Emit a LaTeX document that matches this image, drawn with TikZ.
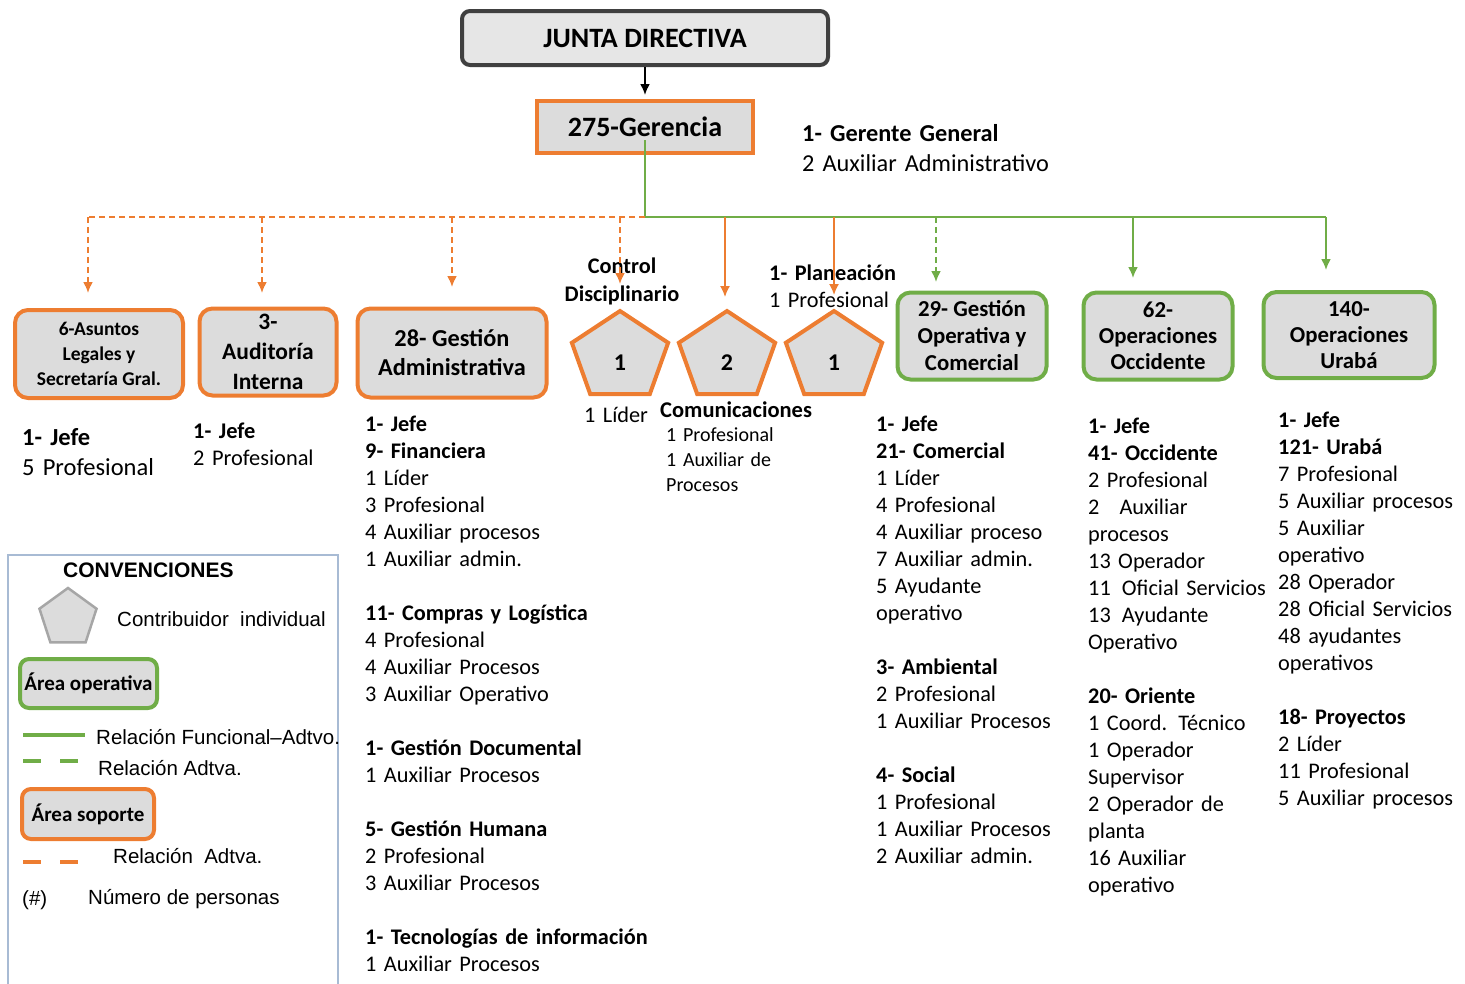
\documentclass[tikz,border=0pt]{standalone}
\usepackage{fontspec}
\setmainfont{Carlito}
\newfontfamily\arialfont{Liberation Sans}
\usetikzlibrary{shapes.geometric,arrows.meta}
\definecolor{orng}{HTML}{ED7D31}
\definecolor{verde}{HTML}{70AD47}
\definecolor{gris}{HTML}{DCDCDC}
\definecolor{marco}{HTML}{A8BBD4}
\begin{document}
\begin{tikzpicture}[x=1pt, y=-1pt,
		soporte/.style={draw=orng, line width=4pt, fill=gris, rounded corners=13pt, align=center, font=\bfseries},
		operativa/.style={draw=verde, line width=4pt, fill=gris, rounded corners=13pt, align=center, font=\bfseries},
		indiv/.style={draw=orng, line width=4pt, fill=gris, regular polygon, regular polygon sides=5, minimum size=92pt, inner sep=0pt, xscale=1.1, transform shape},
		num/.style={font=\fontsize{24}{28}\selectfont\bfseries},
		lista/.style={anchor=base west, align=left, text width=200pt, inner sep=0pt, font=\fontsize{22.3}{27}\selectfont},
		leyenda/.style={anchor=base west, inner sep=0pt, font=\arialfont\fontsize{20.5}{24}\selectfont},
		odash/.style={draw=orng, line width=2pt, dash pattern=on 6pt off 4pt},
		flecha/.style={-{Latex[length=11pt,width=10pt]}}]
	\useasboundingbox (0,0) rectangle (1465,983);

	% cabeza
	\node[draw=black!75, line width=4pt, fill=gris!70, rounded corners=8pt, minimum width=366pt, minimum height=54pt,
		font=\fontsize{28}{30}\selectfont\bfseries] (jd) at (645,38) {JUNTA DIRECTIVA};
	\node[draw=orng, line width=4pt, fill=gris, minimum width=216pt, minimum height=52pt,
		font=\fontsize{28}{30}\selectfont\bfseries] (ger) at (645,127) {275-Gerencia};
	\node[lista, text width=300pt, font=\fontsize{24.3}{30}\selectfont] (gert) at (802,141) {\textbf{1- Gerente General}\\2 Auxiliar Administrativo};
	\draw[flecha, line width=2pt, shorten >=4pt] (jd) -- (ger);

	% areas soporte
	\node[soporte, minimum width=168pt, minimum height=88pt, font=\fontsize{19.5}{25}\selectfont\bfseries] (leg) at (99,354) {6-Asuntos\\Legales y\\Secretaría Gral.};
	\node[soporte, minimum width=137pt, minimum height=87pt, font=\fontsize{23.5}{30}\selectfont\bfseries] (aud) at (268,352) {3-\\Auditoría\\Interna};
	\node[soporte, minimum width=189pt, minimum height=89pt, font=\fontsize{24.3}{29}\selectfont\bfseries] (adm) at (452,353) {28- Gestión\\Administrativa};

	% contribuidores
	\node[indiv] (p1) at (620,357) {};
	\node[indiv] (p2) at (727,357) {};
	\node[indiv] (p3) at (834,357) {};
	\node[num] (c1) at (620,363) {1};
	\node[num] (c2) at (727,363) {2};
	\node[num] (c3) at (834,363) {1};
	\node[font=\fontsize{22.3}{28}\selectfont\bfseries, align=center] (ctl) at (622,281) {Control\\Disciplinario};
	\node[lista, text width=80pt] (c1t) at (584,422) {1 Líder};
	\node[lista, font=\fontsize{22.5}{27}\selectfont\bfseries] (c2t) at (660,417) {Comunicaciones};
	\node[lista, font=\fontsize{20}{25}\selectfont] (c2l) at (666,441) {1 Profesional\\1 Auxiliar de\\Procesos};
	\node[lista] (c3t) at (769,280) {\textbf{1- Planeación}\\1 Profesional};

	% areas operativas
	\node[operativa, minimum width=149pt, minimum height=87pt, font=\fontsize{22.8}{27}\selectfont\bfseries] (gop) at (972,336) {29- Gestión\\Operativa y\\Comercial};
	\node[operativa, minimum width=149pt, minimum height=87pt, font=\fontsize{22.8}{26}\selectfont\bfseries] (occ) at (1158,336) {62-\\Operaciones\\Occidente};
	\node[operativa, minimum width=171pt, minimum height=86pt, font=\fontsize{22.8}{26}\selectfont\bfseries] (ura) at (1349,335) {140-\\Operaciones\\Urabá};

	% conectores
	\coordinate (hub) at (645,217);
	\coordinate (aLeg) at (88,293);
	\coordinate (aAud) at (262,293);
	\coordinate (aAdm) at (452,287);
	\coordinate (aC1) at (620,284);
	\coordinate (aC2) at (725,297);
	\coordinate (aC3) at (834,295);
	\coordinate (aGop) at (936,282);
	\coordinate (aOcc) at (1133,278);
	\coordinate (aUra) at (1326,270);
	\draw[verde, line width=2.5pt] ([yshift=-13pt]ger.center) -- (hub) -- (hub -| aUra);
	\draw[odash] (hub) -- (hub -| aLeg);
	\foreach \t in {aLeg,aAud,aAdm,aC1}
		\draw[odash, flecha, orng] (hub -| \t) -- (\t);
	\foreach \t in {aC2,aC3}
		\draw[flecha, orng, line width=1.6pt] (hub -| \t) -- (\t);
	\draw[flecha, verde, line width=2pt, dash pattern=on 6pt off 4pt] (hub -| aGop) -- (aGop);
	\foreach \t in {aOcc,aUra}
		\draw[flecha, verde, line width=2pt] (hub -| \t) -- (\t);

	% detalle
	\node[lista, font=\fontsize{24.5}{30}\selectfont] (legt) at (22,445) {\textbf{1- Jefe}\\5 Profesional};
	\node[lista, font=\fontsize{22.4}{27}\selectfont, text width=160pt] (audt) at (193,438) {\textbf{1- Jefe}\\2 Profesional};
	\node[lista, text width=320pt] (admt) at (365,431) {\textbf{1- Jefe}\\\textbf{9- Financiera}\\1 Líder\\3 Profesional\\4 Auxiliar procesos\\1 Auxiliar admin.\\[27pt]
		\textbf{11- Compras y Logística}\\4 Profesional\\4 Auxiliar Procesos\\3 Auxiliar Operativo\\[27pt]
		\textbf{1- Gestión Documental}\\1 Auxiliar Procesos\\[27pt]
		\textbf{5- Gestión Humana}\\2 Profesional\\3 Auxiliar Procesos\\[27pt]
		\textbf{1- Tecnologías de información}\\1 Auxiliar Procesos};
	\node[lista] (gopt) at (876,431) {\textbf{1- Jefe}\\\textbf{21- Comercial}\\1 Líder\\4 Profesional\\4 Auxiliar proceso\\7 Auxiliar admin.\\5 Ayudante\\operativo\\[27pt]
		\textbf{3- Ambiental}\\2 Profesional\\1 Auxiliar Procesos\\[27pt]
		\textbf{4- Social}\\1 Profesional\\1 Auxiliar Procesos\\2 Auxiliar admin.};
	\node[lista] (occt) at (1088,433) {\textbf{1- Jefe}\\\textbf{41- Occidente}\\2 Profesional\\2\hspace{0.9em}Auxiliar\\procesos\\13 Operador\\11\hspace{0.5em}Oficial Servicios\\13\hspace{0.5em}Ayudante\\Operativo\\[27pt]
		\textbf{20- Oriente}\\1 Coord. Técnico\\1 Operador\\Supervisor\\2 Operador de\\planta\\16 Auxiliar\\operativo};
	\node[lista] (urat) at (1278,427) {\textbf{1- Jefe}\\\textbf{121- Urabá}\\7 Profesional\\5 Auxiliar procesos\\5 Auxiliar\\operativo\\28 Operador\\28 Oficial Servicios\\48 ayudantes\\operativos\\[27pt]
		\textbf{18- Proyectos}\\2 Líder\\11 Profesional\\5 Auxiliar procesos};

	% convenciones
	\draw[marco, line width=1.2pt] (8,555) rectangle (338,995);
	\node[leyenda, font=\arialfont\fontsize{21}{24}\selectfont\bfseries] (conv) at (63,577) {CONVENCIONES};
	\node[draw=black!35, line width=2.5pt, fill=gris, regular polygon, regular polygon sides=5, minimum size=60pt, inner sep=0pt] (lpen) at (68,618) {};
	\node[leyenda] (lpent) at (117,626) {Contribuidor\ \ individual};
	\node[operativa, rounded corners=9pt, minimum width=137pt, minimum height=49pt, inner sep=0pt, font=\fontsize{21}{24}\selectfont\bfseries] (lop) at (88.5,683.5) {Área operativa};
	\draw[verde, line width=4pt] (23,735) -- (85,735);
	\node[leyenda] (lf) at (96,744) {Relación Funcional–Adtvo.};
	\draw[verde, line width=4pt, dash pattern=on 18pt off 19pt] (23,761) -- (78,761);
	\node[leyenda] (la1) at (98,775) {Relación Adtva.};
	\node[soporte, rounded corners=9pt, minimum width=132pt, minimum height=50pt, inner sep=0pt, font=\fontsize{21}{24}\selectfont\bfseries] (lso) at (88,814) {Área soporte};
	\draw[orng, line width=4pt, dash pattern=on 18pt off 19pt] (23,862) -- (78,862);
	\node[leyenda] (la2) at (113,863) {Relación\ \ Adtva.};
	\node[leyenda] (lnum) at (22,905) {(\#)};
	\node[leyenda] (lnumt) at (88,904) {Número\ de personas};
\end{tikzpicture}
\end{document}
